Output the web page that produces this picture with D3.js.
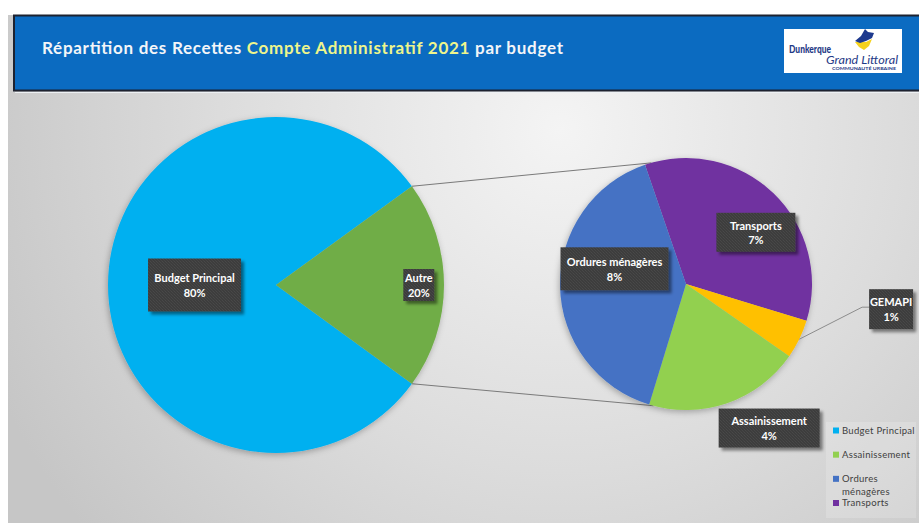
<!DOCTYPE html>
<html>
<head>
<meta charset="utf-8">
<script src="https://cdn.jsdelivr.net/npm/d3@7"></script>
<style>
  html, body { margin: 0; padding: 0; background: #ffffff; overflow: hidden; }
  svg { display: block; }
</style>
</head>
<body>
<svg id="chart" width="919" height="523"></svg>
<script>
// ---- Data -------------------------------------------------------------
const mainCategories = ["Budget Principal", "Autre"];
const mainValues = [80, 20];

const detailCategories = ["Transports", "GEMAPI", "Assainissement", "Ordures ménagères"];
const detailValues = [7, 1, 4, 8];

const legendCategories = ["Budget Principal", "Assainissement", "Ordures ménagères", "Transports"];

const titleParts = ["Répartition des Recettes ", "Compte Administratif 2021", " par budget"];

// ---- Styling ----------------------------------------------------------
const palette = {
  "Budget Principal": "#00b0f0",
  "Autre": "#70ad47",
  "Transports": "#7030a0",
  "GEMAPI": "#ffc000",
  "Assainissement": "#92d050",
  "Ordures ménagères": "#4472c4"
};

const W = 919, H = 523;
const svg = d3.select("#chart");
const defs = svg.append("defs");

// background gradient of the slide body
const bg = defs.append("radialGradient").attr("id", "bodyGrad")
  .attr("gradientUnits", "userSpaceOnUse")
  .attr("cx", 560).attr("cy", 130).attr("r", 620)
  .attr("fx", 560).attr("fy", 130);
bg.append("stop").attr("offset", 0).attr("stop-color", "#f4f4f4");
bg.append("stop").attr("offset", 0.55).attr("stop-color", "#dcdcdc");
bg.append("stop").attr("offset", 1).attr("stop-color", "#c6c6c6");

// soft shadow under the pies
const pieShadow = defs.append("filter").attr("id", "pieShadow")
  .attr("x", "-20%").attr("y", "-20%").attr("width", "140%").attr("height", "140%");
pieShadow.append("feDropShadow").attr("dx", -1).attr("dy", 2)
  .attr("stdDeviation", 3).attr("flood-color", "#000").attr("flood-opacity", 0.28);

// shadow for the label boxes
const boxShadow = defs.append("filter").attr("id", "boxShadow")
  .attr("x", "-20%").attr("y", "-20%").attr("width", "150%").attr("height", "160%");
boxShadow.append("feDropShadow").attr("dx", 3).attr("dy", 3)
  .attr("stdDeviation", 1.6).attr("flood-color", "#000").attr("flood-opacity", 0.45);

// fine carbon-like texture for the label boxes
const tex = defs.append("pattern").attr("id", "boxTexture")
  .attr("patternUnits", "userSpaceOnUse").attr("width", 3).attr("height", 3);
tex.append("rect").attr("width", 3).attr("height", 3).attr("fill", "#3d3d3d");
tex.append("rect").attr("x", 0).attr("y", 0).attr("width", 1).attr("height", 1).attr("fill", "#4a4a4a");
tex.append("rect").attr("x", 1).attr("y", 1).attr("width", 1).attr("height", 1).attr("fill", "#474747");
tex.append("rect").attr("x", 2).attr("y", 2).attr("width", 1).attr("height", 1).attr("fill", "#444444");

// ---- Slide background & header ----------------------------------------
svg.append("rect").attr("x", 8).attr("y", 15).attr("width", W - 8).attr("height", H - 15)
  .attr("fill", "url(#bodyGrad)");

svg.append("rect").attr("x", 14).attr("y", 15.5).attr("width", W + 10).attr("height", 75)
  .attr("fill", "#0b6bc1").attr("stroke", "#1d2230").attr("stroke-width", 2);
svg.append("line").attr("x1", 15).attr("x2", W).attr("y1", 92.5).attr("y2", 92.5)
  .attr("stroke", "#eef1f4").attr("stroke-width", 1);

const title = svg.append("text")
  .attr("x", 42).attr("y", 54)
  .attr("font-family", "Lato, 'Open Sans', sans-serif")
  .attr("font-weight", 700).attr("font-size", 17)
  .attr("textLength", 521).attr("lengthAdjust", "spacing");
title.selectAll("tspan").data(titleParts).join("tspan")
  .attr("fill", (d, i) => i === 1 ? "#eef58c" : "#f3f5f8")
  .attr("xml:space", "preserve")
  .text(d => d);

// logo
const logo = svg.append("g");
logo.append("rect").attr("x", 784).attr("y", 29).attr("width", 118).attr("height", 44)
  .attr("fill", "#ffffff");
logo.append("path")
  .attr("d", "M855,42 L866,42 L872,39 L869,46 L864,50 L859,47 Z")
  .attr("fill", "#f5d21e");
logo.append("path")
  .attr("d", "M855,41 L861,36 L865,29 L868,32 L874,33 L872,38 L866,41 L860,43 Z")
  .attr("fill", "#1e3a8e");
logo.append("text").attr("x", 789).attr("y", 53)
  .attr("font-family", "Lato, sans-serif").attr("font-weight", 900).attr("font-size", 10.5)
  .attr("fill", "#1f3a86").attr("textLength", 42).attr("lengthAdjust", "spacingAndGlyphs")
  .text("Dunkerque");
logo.append("text").attr("x", 826).attr("y", 63.5)
  .attr("font-family", "Lato, sans-serif").attr("font-style", "italic").attr("font-size", 11.5)
  .attr("fill", "#1f3a86").attr("textLength", 72).attr("lengthAdjust", "spacingAndGlyphs")
  .text("Grand Littoral");
logo.append("text").attr("x", 832).attr("y", 69.5)
  .attr("font-family", "Lato, sans-serif").attr("font-weight", 700).attr("font-size", 3.6)
  .attr("fill", "#1f3a86").attr("textLength", 64).attr("lengthAdjust", "spacingAndGlyphs")
  .text("COMMUNAUTÉ URBAINE");

// ---- Pies -------------------------------------------------------------
const rad = deg => deg * Math.PI / 180;

const mainCenter = { x: 276, y: 285 }, mainR = 168;
const detailCenter = { x: 686, y: 284 }, detailR = 126;

// "Autre" is centred on the right-hand side of the main pie
const mainShare = mainValues[1] / d3.sum(mainValues);
const mainStart = rad(90 + mainShare * 360 / 2);
const mainPie = d3.pie().sort(null).startAngle(mainStart).endAngle(mainStart + 2 * Math.PI);
const mainArcs = mainPie(mainValues).map((a, i) => ({ ...a, name: mainCategories[i] }));

const detailStart = rad(-19);
const detailPie = d3.pie().sort(null).startAngle(detailStart).endAngle(detailStart + 2 * Math.PI);
const detailArcs = detailPie(detailValues).map((a, i) => ({ ...a, name: detailCategories[i] }));

const mainArc = d3.arc().innerRadius(0).outerRadius(mainR);
const detailArc = d3.arc().innerRadius(0).outerRadius(detailR);

const polar = (c, r, a) => [c.x + r * Math.sin(a), c.y - r * Math.cos(a)];

// connector lines from the "Autre" slice to the detail pie
const autre = mainArcs[1];
const connectors = [
  [polar(mainCenter, mainR, autre.startAngle), polar(detailCenter, detailR, rad(-16))],
  [polar(mainCenter, mainR, autre.endAngle), polar(detailCenter, detailR, rad(195))]
];
svg.append("g").selectAll("line").data(connectors).join("line")
  .attr("x1", d => d[0][0]).attr("y1", d => d[0][1])
  .attr("x2", d => d[1][0]).attr("y2", d => d[1][1])
  .attr("stroke", "#7a7a7a").attr("stroke-width", 1);

svg.append("g").attr("transform", `translate(${mainCenter.x},${mainCenter.y})`)
  .attr("filter", "url(#pieShadow)")
  .selectAll("path").data(mainArcs).join("path")
  .attr("d", mainArc).attr("fill", d => palette[d.name]);

svg.append("g").attr("transform", `translate(${detailCenter.x},${detailCenter.y})`)
  .attr("filter", "url(#pieShadow)")
  .selectAll("path").data(detailArcs).join("path")
  .attr("d", detailArc).attr("fill", d => palette[d.name]);

// ---- Data labels ------------------------------------------------------
// placement of each label: angle shift from the slice middle (deg), distance as a
// fraction of the radius, and box size
const labelLayout = {
  "Budget Principal": { shift: 0, dist: 0.485, w: 93, h: 53 },
  "Autre": { shift: 0, dist: 0.85, w: 31, h: 32 },
  "Transports": { shift: 9.5, dist: 0.69, w: 79, h: 39 },
  "Ordures ménagères": { shift: 13, dist: 0.58, w: 108, h: 43 },
  "Assainissement": { shift: -11, dist: 1.32, w: 101, h: 39 },
  "GEMAPI": { shift: -19, dist: 1.64, w: 44, h: 40, leader: true }
};

const totalAll = d3.sum(mainValues);
const labelData = [];
mainArcs.forEach(a => labelData.push({ arc: a, center: mainCenter, r: mainR, value: a.data }));
detailArcs.forEach(a => labelData.push({ arc: a, center: detailCenter, r: detailR, value: a.data }));

const labelsG = svg.append("g");
labelData.forEach(d => {
  const L = labelLayout[d.arc.name];
  const mid = (d.arc.startAngle + d.arc.endAngle) / 2;
  const [cx, cy] = polar(d.center, d.r * L.dist, mid + rad(L.shift));
  const boxX = cx - L.w / 2, boxY = cy - L.h / 2;

  if (L.leader) {
    const [sx, sy] = polar(d.center, d.r, mid);
    labelsG.append("polyline")
      .attr("points", [[sx, sy], [boxX - 7, cy - 2], [boxX, cy - 2]].map(p => p.join(",")).join(" "))
      .attr("fill", "none").attr("stroke", "#8c8c8c").attr("stroke-width", 1);
  }

  labelsG.append("rect").attr("x", boxX).attr("y", boxY)
    .attr("width", L.w).attr("height", L.h)
    .attr("fill", "url(#boxTexture)").attr("filter", "url(#boxShadow)");

  const pct = Math.round(d.value / totalAll * 100) + "%";
  const t = labelsG.append("text")
    .attr("x", cx).attr("y", cy)
    .attr("text-anchor", "middle")
    .attr("font-family", "Lato, 'Open Sans', sans-serif")
    .attr("font-weight", 700).attr("font-size", 11)
    .attr("fill", "#ffffff");
  t.append("tspan").attr("x", cx).attr("dy", "-0.25em").text(d.arc.name);
  t.append("tspan").attr("x", cx).attr("dy", "1.32em").text(pct);
});

// ---- Legend -----------------------------------------------------------
const legendG = svg.append("g");
legendG.append("rect").attr("x", 826).attr("y", 422).attr("width", 90).attr("height", 96)
  .attr("fill", "#ffffff").attr("fill-opacity", 0.18);

const legendY = d3.scalePoint().domain(legendCategories).range([430.5, 503]);
const items = legendG.selectAll("g.item").data(legendCategories).join("g")
  .attr("class", "item")
  .attr("transform", d => `translate(833,${legendY(d)})`);
items.append("rect").attr("x", 0).attr("y", -3).attr("width", 6).attr("height", 6)
  .attr("fill", d => palette[d]);
items.append("text")
  .attr("x", 9).attr("y", 0)
  .attr("font-family", "Lato, 'Open Sans', sans-serif").attr("font-size", 9.5)
  .attr("fill", "#404040").attr("letter-spacing", 0.3)
  .each(function (d) {
    const words = d === "Ordures ménagères" ? ["Ordures", "ménagères"] : [d];
    const sel = d3.select(this);
    words.forEach((w, i) => sel.append("tspan").attr("x", 9).attr("dy", i === 0 ? "0.35em" : "1.35em").text(w));
  });
</script>
</body>
</html>
